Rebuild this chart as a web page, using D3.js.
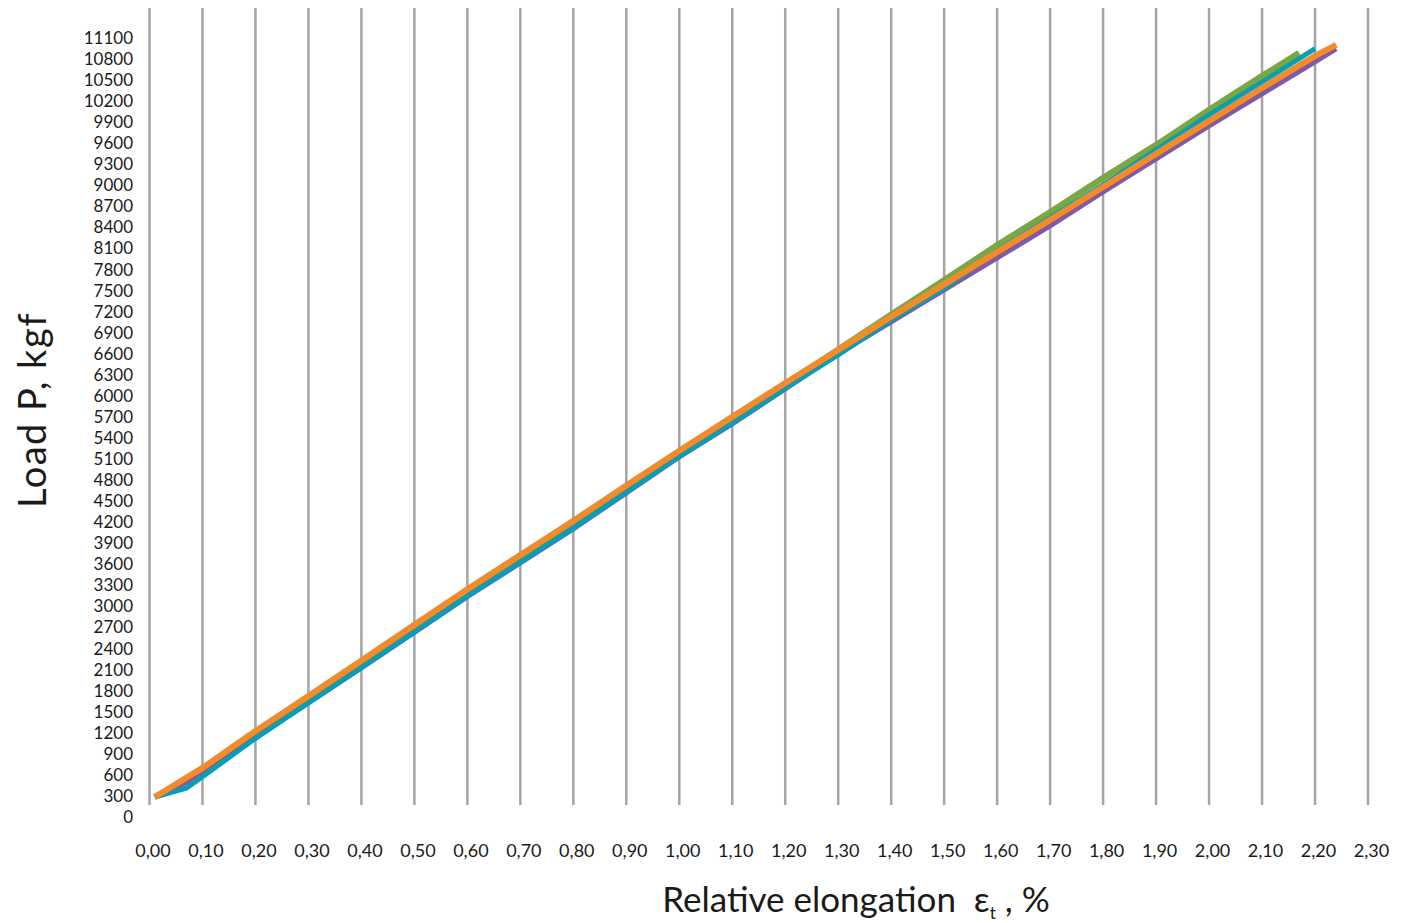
<!DOCTYPE html>
<html>
<head>
<meta charset="utf-8">
<script src="https://cdn.jsdelivr.net/npm/d3@7"></script>
<style>
  html, body { margin: 0; padding: 0; background: #fff; }
  svg { display: block; }
  text { font-family: Lato, "Open Sans", sans-serif; fill: #1a1a1a; }
</style>
</head>
<body>
<svg id="chart" width="1408" height="923"></svg>
<script>
// ---- data ----
const xTicks = d3.range(0, 24).map(i => +(i * 0.1).toFixed(2));       // 0,00 .. 2,30
const yTicks = d3.range(0, 38).map(i => i * 300);                      // 0 .. 11100

const greenElong = [0.01, 0.10, 0.20, 0.30, 0.40, 0.50, 0.60, 0.70, 0.80, 0.90, 1.00, 1.10, 1.20, 1.30, 1.40, 1.50, 1.60, 1.70, 1.80, 1.90, 2.00, 2.10, 2.17];
const greenLoad  = [285, 640, 1160, 1660, 2160, 2670, 3170, 3660, 4150, 4660, 5160, 5640, 6150, 6660, 7160, 7650, 8150, 8620, 9107, 9577, 10076, 10561, 10888];

const purpleElong = [0.01, 0.10, 0.20, 0.30, 0.40, 0.50, 0.60, 0.70, 0.80, 0.90, 1.00, 1.10, 1.20, 1.30, 1.40, 1.50, 1.60, 1.70, 1.80, 1.90, 2.00, 2.10, 2.20, 2.24];
const purpleLoad  = [285, 600, 1130, 1625, 2124, 2630, 3140, 3620, 4105, 4618, 5131, 5601, 6100, 6599, 7055, 7511, 7967, 8423, 8908, 9378, 9848, 10304, 10760, 10945];

const tealElong = [0.01, 0.07, 0.10, 0.20, 0.30, 0.40, 0.50, 0.60, 0.70, 0.80, 0.90, 1.00, 1.10, 1.20, 1.30, 1.40, 1.50, 1.60, 1.70, 1.80, 1.90, 2.00, 2.10, 2.20];
const tealLoad  = [285, 413, 575, 1120, 1630, 2130, 2640, 3150, 3634, 4119, 4632, 5140, 5615, 6114, 6584, 7083, 7539, 8067, 8537, 9007, 9506, 10005, 10475, 10950];

const orangeElong = [0.01, 0.10, 0.20, 0.30, 0.40, 0.50, 0.60, 0.70, 0.80, 0.90, 1.00, 1.10, 1.20, 1.30, 1.40, 1.50, 1.60, 1.70, 1.80, 1.90, 2.00, 2.10, 2.20, 2.24];
const orangeLoad  = [285, 700, 1225, 1724, 2230, 2740, 3245, 3734, 4220, 4725, 5220, 5701, 6185, 6656, 7130, 7590, 8052, 8508, 8979, 9449, 9919, 10390, 10846, 11003];

const seriesNames = ["green", "purple", "teal", "orange"];
const seriesColors = ["#79a843", "#7d5ba6", "#0a9db6", "#f58a2b"];
const seriesWidths = [6, 5, 5, 6];
const seriesX = [greenElong, purpleElong, tealElong, orangeElong];
const seriesY = [greenLoad, purpleLoad, tealLoad, orangeLoad];

// ---- drawing ----
const svg = d3.select("#chart");
const x = d3.scaleLinear().domain([0, 2.3]).range([149.5, 1368]);
const y = d3.scaleLinear().domain([0, 11100]).range([817, 38]);

// vertical gridlines
svg.append("g").selectAll("line").data(xTicks).join("line")
  .attr("x1", d => x(d)).attr("x2", d => x(d))
  .attr("y1", 8).attr("y2", 805)
  .attr("stroke", "#a5a5a5").attr("stroke-width", 2.5);

// y tick labels
const yAxis = d3.axisLeft(y).tickValues(yTicks).tickSize(0).tickPadding(0)
  .tickFormat(d => String(d));
const gy = svg.append("g").attr("transform", "translate(133,0)").call(yAxis);
gy.select(".domain").remove();
gy.selectAll("text").attr("font-size", 17).attr("font-family", "Lato, sans-serif").attr("fill", "#1a1a1a");

// x tick labels
const xAxis = d3.axisBottom(x).tickValues(xTicks).tickSize(0).tickPadding(0)
  .tickFormat(d => d3.format(".2f")(d).replace(".", ","));
const gx = svg.append("g").attr("transform", "translate(3,844)").call(xAxis);
gx.select(".domain").remove();
gx.selectAll("text").attr("font-size", 18).attr("font-family", "Lato, sans-serif").attr("fill", "#1a1a1a");

// series lines
const line = d3.line().x(d => x(d[0])).y(d => y(d[1]));
seriesNames.forEach((name, i) => {
  const pts = seriesX[i].map((e, j) => [e, seriesY[i][j]]);
  svg.append("path").datum(pts)
    .attr("class", "series-" + name)
    .attr("d", line)
    .attr("fill", "none")
    .attr("stroke", seriesColors[i])
    .attr("stroke-width", seriesWidths[i])
    .attr("stroke-linejoin", "round")
    .attr("stroke-linecap", "butt");
});

// axis titles
svg.append("text")
  .attr("transform", "translate(46,410) rotate(-90)")
  .attr("text-anchor", "middle")
  .attr("font-size", 38)
  .attr("letter-spacing", 1.5)
  .text("Load P, kgf");

const xt = svg.append("text")
  .attr("x", 856).attr("y", 912)
  .attr("text-anchor", "middle")
  .attr("font-size", 35);
xt.append("tspan").text("Relative elongation\u00a0\u00a0ε");
xt.append("tspan").attr("font-size", 17).attr("dy", 7).text("t");
xt.append("tspan").attr("dy", -7).text(" , %");
</script>
</body>
</html>
